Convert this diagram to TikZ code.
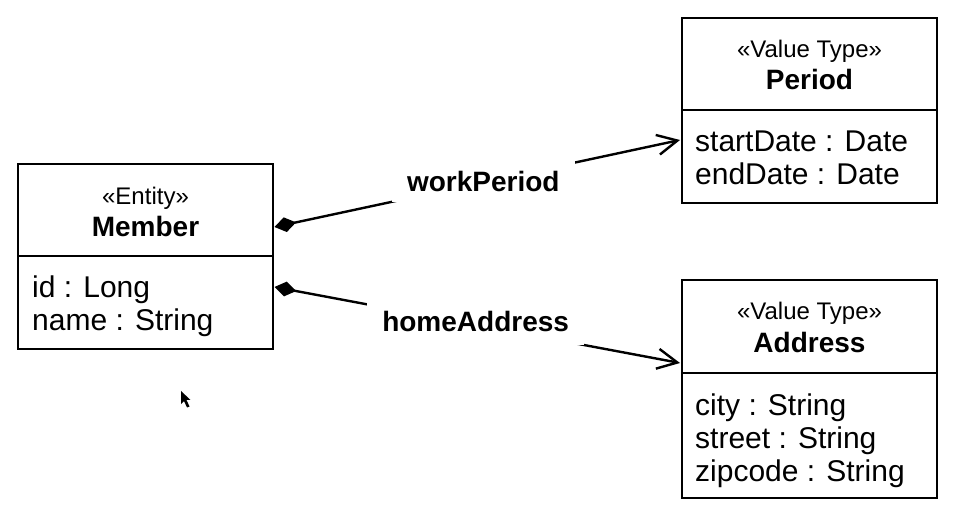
\documentclass[tikz,border=0pt]{standalone}
\usepackage{fontspec}
\setmainfont{Liberation Sans}
\usetikzlibrary{arrows.meta}
\tikzset{
 box/.style={draw, line width=2.4pt, minimum width=255pt, inner sep=0pt},
 stereo/.style={anchor=base, inner sep=0pt, font=\fontsize{24}{27}\selectfont},
 cname/.style={anchor=base, inner sep=0pt, font=\fontsize{28}{32}\selectfont\bfseries},
 attr/.style={anchor=base west, inner sep=0pt, font=\fontsize{30}{34}\selectfont},
 role/.style={fill=white, inner xsep=15pt, inner ysep=10pt, font=\fontsize{28}{31}\selectfont\bfseries},
 conn/.style={line width=2.4pt, arrows={{Diamond[length=22pt,width=15pt]}-{Straight Barb[length=20pt,width=20pt,line join=miter]}}},
}
\begin{document}
\begin{tikzpicture}[x=1pt,y=-1pt]
\useasboundingbox (0,0) rectangle (953,510);
% Member
\node[box, minimum height=92pt] (memh) at (145.5,210) {};
\node[box, minimum height=93pt] (memb) at (145.5,302.5) {};
\node[stereo] (memst) at (145.5,205) {«Entity»};
\node[cname] (memn) at (145.5,237) {Member};
\node[attr] (mema1) at (32,298) {id : Long};
\node[attr] (mema2) at (32,331) {name : String};
% Period
\node[box, minimum height=92pt] (perh) at (809.5,64) {};
\node[box, minimum height=93pt] (perb) at (809.5,156.5) {};
\node[stereo] (perst) at (809.5,58) {«Value Type»};
\node[cname] (pern) at (809.5,90) {Period};
\node[attr] (pera1) at (695,152) {startDate : Date};
\node[attr] (pera2) at (695,185) {endDate : Date};
% Address
\node[box, minimum height=93pt] (adrh) at (809.5,326.5) {};
\node[box, minimum height=125pt] (adrb) at (809.5,435.5) {};
\node[stereo] (adrst) at (809.5,320) {«Value Type»};
\node[cname] (adrn) at (809.5,353) {Address};
\node[attr] (adra1) at (695,415) {city : String};
\node[attr] (adra2) at (695,448) {street : String};
\node[attr] (adra3) at (695,481) {zipcode : String};
% connectors
\coordinate (wpS) at (274.5,227);
\coordinate (wpE) at (680,140);
\coordinate (haS) at (274.5,287);
\coordinate (haE) at (680,363);
\draw[conn] (wpS) -- node[role, pos=0.515, yshift=1pt, inner ysep=11pt] (wp) {workPeriod} (wpE);
\draw[conn] (haS) -- node[role, pos=0.496, yshift=3pt, inner ysep=13pt] (ha) {homeAddress} (haE);
% mouse cursor
\fill (181,391) -- (181,404) -- (184,401) -- (187,407.5) -- (189.5,406.5) -- (186.5,400) -- (190.5,400) -- cycle;
\end{tikzpicture}
\end{document}
